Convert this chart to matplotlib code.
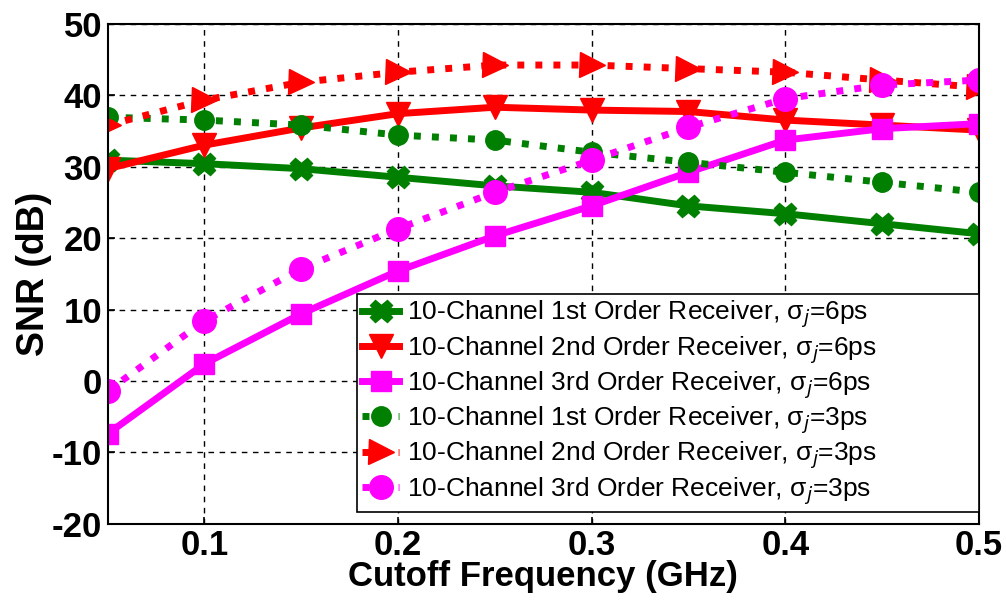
import matplotlib.pyplot as plt

plt.rcParams['font.family'] = ['Liberation Sans', 'DejaVu Sans']
plt.rcParams['axes.unicode_minus'] = False

freq = [0.05, 0.10, 0.15, 0.20, 0.25, 0.30, 0.35, 0.40, 0.45, 0.50]

snr_1st_6ps = [30.9, 30.4, 29.7, 28.5, 27.3, 26.4, 24.5, 23.4, 22.0, 20.6]
snr_2nd_6ps = [29.7, 33.0, 35.4, 37.4, 38.3, 37.9, 37.7, 36.5, 35.8, 35.1]
snr_3rd_6ps = [-7.4, 2.4, 9.4, 15.4, 20.3, 24.5, 29.2, 33.7, 35.3, 36.0]
snr_1st_3ps = [36.9, 36.5, 35.8, 34.4, 33.7, 32.0, 30.6, 29.2, 27.8, 26.4]
snr_2nd_3ps = [35.8, 39.3, 41.8, 43.2, 44.2, 44.2, 43.7, 43.2, 42.1, 41.1]
snr_3rd_3ps = [-1.4, 8.4, 15.7, 21.3, 26.4, 30.9, 35.5, 39.5, 41.4, 42.1]

labels = ['10-Channel 1st Order Receiver, σ$_j$=6ps',
          '10-Channel 2nd Order Receiver, σ$_j$=6ps',
          '10-Channel 3rd Order Receiver, σ$_j$=6ps',
          '10-Channel 1st Order Receiver, σ$_j$=3ps',
          '10-Channel 2nd Order Receiver, σ$_j$=3ps',
          '10-Channel 3rd Order Receiver, σ$_j$=3ps']

green = '#007f00'
red = '#ff0000'
magenta = '#ff00ff'

fig = plt.figure(figsize=(10.06, 6.05), dpi=100)
ax = fig.add_axes([0.107, 0.134, 0.866, 0.827])

lw = 5
dots = (0, (1, 1.6))
ax.plot(freq, snr_1st_6ps, '-', color=green, lw=lw, marker='X', ms=16, label=labels[0])
ax.plot(freq, snr_2nd_6ps, '-', color=red, lw=lw, marker='v', ms=17, label=labels[1])
ax.plot(freq, snr_3rd_6ps, '-', color=magenta, lw=lw, marker='s', ms=14, label=labels[2])
ax.plot(freq, snr_1st_3ps, linestyle=dots, color=green, lw=lw, marker='o', ms=14, label=labels[3])
ax.plot(freq, snr_2nd_3ps, linestyle=dots, color=red, lw=lw, marker='>', ms=18, label=labels[4])
ax.plot(freq, snr_3rd_3ps, linestyle=dots, color=magenta, lw=lw, marker='o', ms=17, label=labels[5])

ax.set_xlim(0.05, 0.5)
ax.set_ylim(-20, 50)
ax.set_xticks([0.1, 0.2, 0.3, 0.4, 0.5])
ax.set_xticklabels(['0.1', '0.2', '0.3', '0.4', '0.5'])
ax.set_yticks(range(-20, 51, 10))
ax.grid(True, color='black', linestyle=(0, (4, 4)), linewidth=1)
ax.tick_params(direction='in', length=5, width=1.2, labelsize=25, pad=4)
for t in ax.get_xticklabels() + ax.get_yticklabels():
    t.set_fontweight('bold')
for s in ax.spines.values():
    s.set_linewidth(1.5)

ax.set_xlabel('Cutoff Frequency (GHz)', fontsize=25, fontweight='bold', labelpad=-2)
ax.set_ylabel('SNR (dB)', fontsize=27, fontweight='bold', labelpad=0)

# legend box spans from x=0.1475 GHz to the right spine
leg = ax.legend(loc='lower left', bbox_to_anchor=(0.286, 0.024, 0.714, 0.435),
                mode='expand', fontsize=19, handlelength=1.4, handletextpad=0.3,
                borderpad=0.2, labelspacing=0.15, borderaxespad=0.0, fancybox=False,
                framealpha=1, edgecolor='black')
leg.get_frame().set_linewidth(1.2)

fig.savefig('out.png', dpi=100)
